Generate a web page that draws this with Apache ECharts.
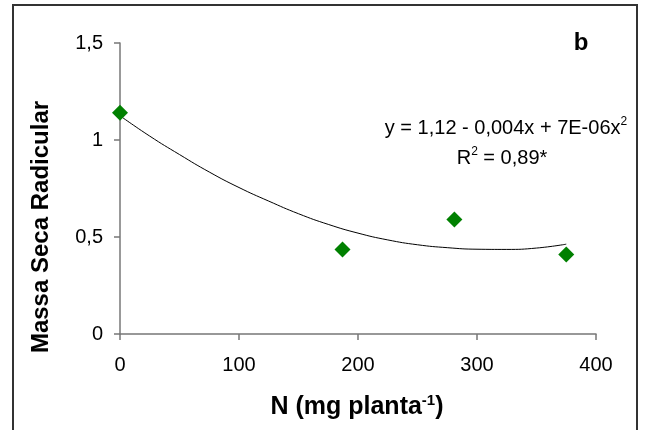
<!DOCTYPE html>
<html>
<head>
<meta charset="utf-8">
<script src="https://cdn.jsdelivr.net/npm/echarts@6/dist/echarts.min.js"></script>
<style>
  html, body { margin: 0; padding: 0; background: #fff; }
  #chart { width: 649px; height: 430px; }
</style>
</head>
<body>
<div id="chart"></div>
<script>
// pontos observados
const doseN = [0, 187, 281, 375];
const massaSeca = [1.14, 0.435, 0.59, 0.41];

// curva de tendência
const trendN = [0, 25, 50, 75, 100, 125, 150, 175, 200, 225, 250, 275, 300, 325, 350, 375];
const trendMassa = [1.125, 1.02, 0.925, 0.835, 0.755, 0.685, 0.62, 0.565, 0.52, 0.485, 0.46, 0.445, 0.437, 0.436, 0.443, 0.463];

const xTicks = [0, 100, 200, 300, 400];
const yTicks = ['0', '0,5', '1', '1,5'];

const FONT = '"Liberation Sans", Arial, sans-serif';
const axisColor = '#777';

const chart = echarts.init(document.getElementById('chart'));

const option = {
  animation: false,
  backgroundColor: '#fff',
  grid: { left: 120, right: 53, top: 43, bottom: 96, containLabel: false },
  xAxis: {
    type: 'value',
    min: xTicks[0],
    max: xTicks[xTicks.length - 1],
    interval: 100,
    axisLine: { show: true, lineStyle: { color: axisColor, width: 1.5 } },
    axisTick: { show: true, inside: false, length: 6, lineStyle: { color: axisColor, width: 1.5 } },
    splitLine: { show: false },
    axisLabel: { color: '#000', fontSize: 20, fontFamily: FONT, margin: 21 }
  },
  yAxis: {
    type: 'value',
    min: 0,
    max: 1.5,
    interval: 0.5,
    axisLine: { show: true, lineStyle: { color: axisColor, width: 1.5 } },
    axisTick: { show: true, inside: false, length: 6, lineStyle: { color: axisColor, width: 1.5 } },
    splitLine: { show: false },
    axisLabel: {
      color: '#000', fontSize: 20, fontFamily: FONT, margin: 17,
      formatter: v => yTicks[Math.round(v / 0.5)]
    }
  },
  series: [
    {
      name: 'tendencia',
      type: 'line',
      smooth: true,
      symbol: 'none',
      data: trendN.map((x, i) => [x, trendMassa[i]]),
      lineStyle: { color: '#000', width: 1 },
      z: 2
    },
    {
      name: 'massa seca',
      type: 'scatter',
      symbol: 'diamond',
      symbolSize: 16,
      data: doseN.map((x, i) => [x, massaSeca[i]]),
      itemStyle: { color: '#008000', opacity: 1 },
      z: 3
    }
  ],
  graphic: [
    {
      type: 'rect',
      shape: { x: 13, y: 5, width: 624, height: 440 },
      style: { fill: 'none', stroke: '#333', lineWidth: 2 },
      silent: true
    },
    {
      type: 'text',
      x: 41, y: 227,
      rotation: Math.PI / 2,
      style: {
        text: 'Massa Seca Radicular',
        font: 'bold 24px ' + FONT,
        fill: '#000',
        align: 'center', verticalAlign: 'middle',
        textAlign: 'center', textVerticalAlign: 'middle'
      }
    },
    {
      type: 'text',
      x: 357, y: 407,
      style: {
        text: '{t|N (mg planta}{s|-1}{t|)}',
        align: 'center', verticalAlign: 'middle',
        textAlign: 'center', textVerticalAlign: 'middle',
        rich: {
          t: { font: 'bold 25px ' + FONT, fill: '#000', lineHeight: 28 },
          s: { font: 'bold 15px ' + FONT, fill: '#000', lineHeight: 28, verticalAlign: 'top' }
        }
      }
    },
    {
      type: 'text',
      x: 581, y: 43,
      style: {
        text: 'b',
        font: 'bold 24px ' + FONT,
        fill: '#000',
        align: 'center', verticalAlign: 'middle',
        textAlign: 'center', textVerticalAlign: 'middle'
      }
    },
    {
      type: 'text',
      x: 506, y: 128,
      style: {
        text: '{t|y = 1,12 - 0,004x + 7E-06x}{s|2}',
        align: 'center', verticalAlign: 'middle',
        textAlign: 'center', textVerticalAlign: 'middle',
        rich: {
          t: { font: '20px ' + FONT, fill: '#000', lineHeight: 24 },
          s: { font: '12px ' + FONT, fill: '#000', lineHeight: 24, verticalAlign: 'top' }
        }
      }
    },
    {
      type: 'text',
      x: 502, y: 158,
      style: {
        text: '{t|R}{s|2}{t| = 0,89*}',
        align: 'center', verticalAlign: 'middle',
        textAlign: 'center', textVerticalAlign: 'middle',
        rich: {
          t: { font: '20px ' + FONT, fill: '#000', lineHeight: 24 },
          s: { font: '12px ' + FONT, fill: '#000', lineHeight: 24, verticalAlign: 'top' }
        }
      }
    }
  ]
};

chart.setOption(option);
</script>
</body>
</html>
